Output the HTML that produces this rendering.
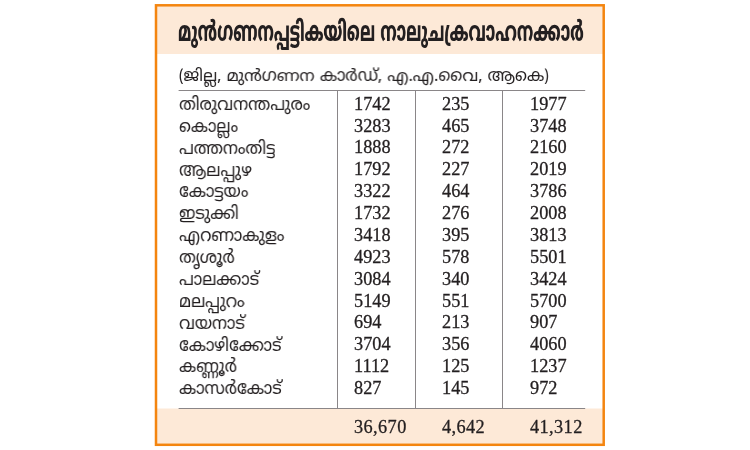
<!DOCTYPE html>
<html><head><meta charset="utf-8">
<style>
html,body{margin:0;padding:0;background:#fff;width:750px;height:450px;overflow:hidden}
body{position:relative;color:#231f20}
.ab{will-change:transform}
.ab{position:absolute;white-space:nowrap;line-height:20px}
.ml{font-family:"Noto Sans Malayalam","FreeSans","Liberation Sans",sans-serif;font-size:18.2px;font-weight:450}
.pr{position:relative;top:-1.2px;font-size:15px}
.nm{transform-origin:0 0;transform:scaleX(0.91)}
.n{font-family:"Liberation Serif",serif;font-size:18.3px;-webkit-text-stroke:0.3px #231f20}
#title{left:177.5px;top:14.7px;font-family:"Noto Sans Malayalam","FreeSans","Liberation Sans",sans-serif;font-weight:850;font-size:27.6px;line-height:40px;transform-origin:0 0;transform:scaleX(0.5825)}
</style></head><body>
<svg class="ab" style="left:0;top:0" width="750" height="450">
<rect x="156" y="5.3" width="447.7" height="48.7" fill="#fde9d7"/>
<rect x="156" y="408.5" width="447.7" height="36.3" fill="#fde9d7"/>
<rect x="156" y="5.3" width="447.7" height="439.5" fill="none" stroke="#f4850f" stroke-width="2.5"/>
<g stroke="#8a8688" stroke-width="1">
<line x1="178.6" y1="90.5" x2="585.2" y2="90.5"/>
<line x1="178.6" y1="408.5" x2="585.2" y2="408.5"/>
<line x1="337.5" y1="90.5" x2="337.5" y2="408"/>
<line x1="415.5" y1="90.5" x2="415.5" y2="408"/>
<line x1="502.5" y1="90.5" x2="502.5" y2="408"/>
</g>
</svg>
<div id="title" class="ab">മുൻഗണനപ്പട്ടികയിലെ നാലുചക്രവാഹനക്കാർ</div>
<div class="ab ml" style="left:179px;top:67px;font-size:16.7px;transform-origin:0 0;transform:scaleX(0.997)"><span class="pr">(</span>ജില്ല, മുൻഗണന കാർഡ്, എ.എ.വൈ, ആകെ<span class="pr">)</span></div>

<div class="ab ml nm" style="left:178.5px;top:96.00px">തിരുവനന്തപുരം</div>
<div class="ab n" style="left:354.0px;top:93.75px">1742</div>
<div class="ab n" style="left:442.0px;top:93.75px">235</div>
<div class="ab n" style="left:529.5px;top:93.75px">1977</div>
<div class="ab ml nm" style="left:178.5px;top:117.87px">കൊല്ലം</div>
<div class="ab n" style="left:354.0px;top:115.62px">3283</div>
<div class="ab n" style="left:442.0px;top:115.62px">465</div>
<div class="ab n" style="left:529.5px;top:115.62px">3748</div>
<div class="ab ml nm" style="left:178.5px;top:139.74px">പത്തനംതിട്ട</div>
<div class="ab n" style="left:354.0px;top:137.49px">1888</div>
<div class="ab n" style="left:442.0px;top:137.49px">272</div>
<div class="ab n" style="left:529.5px;top:137.49px">2160</div>
<div class="ab ml nm" style="left:178.5px;top:161.61px">ആലപ്പുഴ</div>
<div class="ab n" style="left:354.0px;top:159.36px">1792</div>
<div class="ab n" style="left:442.0px;top:159.36px">227</div>
<div class="ab n" style="left:529.5px;top:159.36px">2019</div>
<div class="ab ml nm" style="left:178.5px;top:183.48px">കോട്ടയം</div>
<div class="ab n" style="left:354.0px;top:181.23px">3322</div>
<div class="ab n" style="left:442.0px;top:181.23px">464</div>
<div class="ab n" style="left:529.5px;top:181.23px">3786</div>
<div class="ab ml nm" style="left:178.5px;top:205.35px">ഇടുക്കി</div>
<div class="ab n" style="left:354.0px;top:203.10px">1732</div>
<div class="ab n" style="left:442.0px;top:203.10px">276</div>
<div class="ab n" style="left:529.5px;top:203.10px">2008</div>
<div class="ab ml nm" style="left:178.5px;top:227.22px">എറണാകുളം</div>
<div class="ab n" style="left:354.0px;top:224.97px">3418</div>
<div class="ab n" style="left:442.0px;top:224.97px">395</div>
<div class="ab n" style="left:529.5px;top:224.97px">3813</div>
<div class="ab ml nm" style="left:178.5px;top:249.09px">തൃശൂർ</div>
<div class="ab n" style="left:354.0px;top:246.84px">4923</div>
<div class="ab n" style="left:442.0px;top:246.84px">578</div>
<div class="ab n" style="left:529.5px;top:246.84px">5501</div>
<div class="ab ml nm" style="left:178.5px;top:270.96px">പാലക്കാട്</div>
<div class="ab n" style="left:354.0px;top:268.71px">3084</div>
<div class="ab n" style="left:442.0px;top:268.71px">340</div>
<div class="ab n" style="left:529.5px;top:268.71px">3424</div>
<div class="ab ml nm" style="left:178.5px;top:292.83px">മലപ്പുറം</div>
<div class="ab n" style="left:354.0px;top:290.58px">5149</div>
<div class="ab n" style="left:442.0px;top:290.58px">551</div>
<div class="ab n" style="left:529.5px;top:290.58px">5700</div>
<div class="ab ml nm" style="left:178.5px;top:314.70px">വയനാട്</div>
<div class="ab n" style="left:354.0px;top:312.45px">694</div>
<div class="ab n" style="left:442.0px;top:312.45px">213</div>
<div class="ab n" style="left:529.5px;top:312.45px">907</div>
<div class="ab ml nm" style="left:178.5px;top:336.57px">കോഴിക്കോട്</div>
<div class="ab n" style="left:354.0px;top:334.32px">3704</div>
<div class="ab n" style="left:442.0px;top:334.32px">356</div>
<div class="ab n" style="left:529.5px;top:334.32px">4060</div>
<div class="ab ml nm" style="left:178.5px;top:358.44px">കണ്ണൂർ</div>
<div class="ab n" style="left:354.0px;top:356.19px">1112</div>
<div class="ab n" style="left:442.0px;top:356.19px">125</div>
<div class="ab n" style="left:529.5px;top:356.19px">1237</div>
<div class="ab ml nm" style="left:178.5px;top:380.31px">കാസർകോട്</div>
<div class="ab n" style="left:354.0px;top:378.06px">827</div>
<div class="ab n" style="left:442.0px;top:378.06px">145</div>
<div class="ab n" style="left:529.5px;top:378.06px">972</div>
<div class="ab n" style="left:354.0px;top:417.0px;letter-spacing:0.4px">36,670</div>
<div class="ab n" style="left:442.0px;top:417.0px;letter-spacing:0.4px">4,642</div>
<div class="ab n" style="left:529.5px;top:417.0px;letter-spacing:0.4px">41,312</div>
</body></html>
